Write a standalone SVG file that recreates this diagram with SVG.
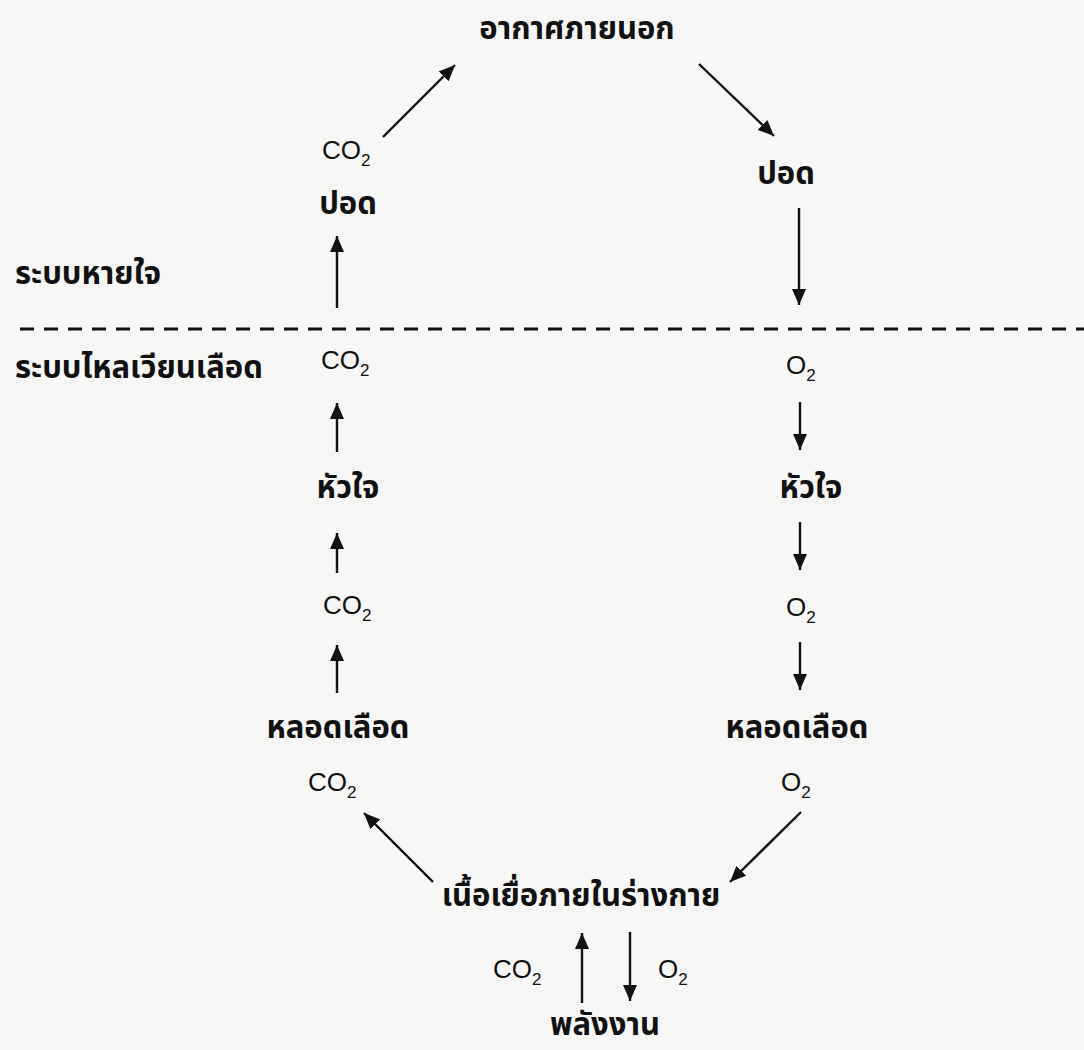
<svg xmlns="http://www.w3.org/2000/svg" width="1084" height="1050" viewBox="0 0 1084 1050">
<style>
.th{font-family:"Noto Sans Thai","Noto Sans Thai Looped","Loma","Garuda","Noto Sans","DejaVu Sans",sans-serif;font-weight:bold;font-size:31px;fill:#111}
.ch{font-family:"Liberation Sans",Arial,sans-serif;font-size:26px;fill:#111}
.sub{font-size:17px}
.ar{stroke:#111;stroke-width:2.4;fill:none;marker-end:url(#ah)}
</style>
<defs>
<marker id="ah" markerUnits="userSpaceOnUse" markerWidth="17" markerHeight="14" refX="16" refY="7" orient="auto">
<path d="M0,0 L16,7 L0,14 z" fill="#111"/>
</marker>
</defs>
<rect width="1084" height="1050" fill="#f7f7f6"/>
<line x1="20" y1="329" x2="1084" y2="329" stroke="#111" stroke-width="3" stroke-dasharray="14 10"/>
<g id="connectors">
<line class="ar" x1="383" y1="137" x2="455" y2="65"/>
<line class="ar" x1="699" y1="64" x2="774" y2="136"/>
<line class="ar" x1="337" y1="308" x2="337" y2="236"/>
<line class="ar" x1="799" y1="208" x2="799" y2="305"/>
<line class="ar" x1="337" y1="452" x2="337" y2="403"/>
<line class="ar" x1="337" y1="573" x2="337" y2="533"/>
<line class="ar" x1="337" y1="693" x2="337" y2="645"/>
<line class="ar" x1="800" y1="402" x2="800" y2="450"/>
<line class="ar" x1="800" y1="522" x2="800" y2="570"/>
<line class="ar" x1="800" y1="642" x2="800" y2="690"/>
<line class="ar" x1="433" y1="882" x2="364" y2="813"/>
<line class="ar" x1="801" y1="812" x2="730" y2="882"/>
<line class="ar" x1="582" y1="1003" x2="582" y2="933"/>
<line class="ar" x1="630" y1="932" x2="630" y2="1001"/>
</g>
<g id="outside-air"><text class="th" x="577" y="39" text-anchor="middle">อากาศภายนอก</text></g>
<g id="co2-top"><text class="ch" x="322" y="159">CO<tspan class="sub" dy="7">2</tspan></text></g>
<g id="lung-left"><text class="th" x="348" y="214" text-anchor="middle">ปอด</text></g>
<g id="lung-right"><text class="th" x="786" y="184" text-anchor="middle">ปอด</text></g>
<g id="label-resp"><text class="th" x="15" y="284">ระบบหายใจ</text></g>
<g id="label-circ"><text class="th" x="15" y="378">ระบบไหลเวียนเลือด</text></g>
<g id="co2-left-1"><text class="ch" x="321" y="369">CO<tspan class="sub" dy="7">2</tspan></text></g>
<g id="o2-right-1"><text class="ch" x="786" y="374">O<tspan class="sub" dy="7">2</tspan></text></g>
<g id="heart-left"><text class="th" x="348" y="498" text-anchor="middle">หัวใจ</text></g>
<g id="heart-right"><text class="th" x="811" y="498" text-anchor="middle">หัวใจ</text></g>
<g id="co2-left-2"><text class="ch" x="323" y="614">CO<tspan class="sub" dy="7">2</tspan></text></g>
<g id="o2-right-2"><text class="ch" x="786" y="616">O<tspan class="sub" dy="7">2</tspan></text></g>
<g id="vessel-left"><text class="th" x="338" y="738" text-anchor="middle">หลอดเลือด</text></g>
<g id="vessel-right"><text class="th" x="797" y="738" text-anchor="middle">หลอดเลือด</text></g>
<g id="co2-left-3"><text class="ch" x="308" y="791">CO<tspan class="sub" dy="7">2</tspan></text></g>
<g id="o2-right-3"><text class="ch" x="781" y="791">O<tspan class="sub" dy="7">2</tspan></text></g>
<g id="tissue"><text class="th" x="581" y="906" text-anchor="middle">เนื้อเยื่อภายในร่างกาย</text></g>
<g id="co2-bottom"><text class="ch" x="493" y="978">CO<tspan class="sub" dy="7">2</tspan></text></g>
<g id="o2-bottom"><text class="ch" x="658" y="978">O<tspan class="sub" dy="7">2</tspan></text></g>
<g id="energy"><text class="th" x="605" y="1035" text-anchor="middle" font-size="30">พลังงาน</text></g>
</svg>
